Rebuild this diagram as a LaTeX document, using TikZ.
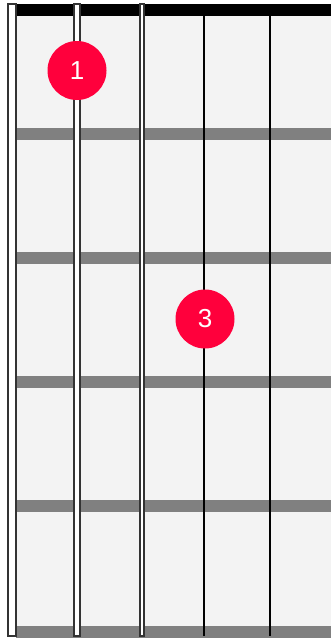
\documentclass[tikz,border=0pt]{standalone}
\usepackage{fontspec}
\setmainfont{Liberation Sans}
\definecolor{boardbg}{HTML}{F3F3F3}
\definecolor{fretgray}{HTML}{808080}
\definecolor{outl}{HTML}{333333}
\definecolor{dotred}{RGB}{255,0,60}
\begin{document}
\begin{tikzpicture}[x=1pt,y=-1pt,
  fretbar/.style={fill=fretgray,draw=none},
  thickstring/.style={fill=white,draw=outl,line width=2pt},
  thinstring/.style={draw=black,line width=2pt},
  fingerdot/.style={circle,fill=dotred,draw=none,minimum size=59pt,inner sep=0pt,text=white,font=\fontsize{26}{26}\selectfont}]
\useasboundingbox (0,0) rectangle (331,638);
% board
\fill[boardbg] (16,16) rectangle (331,626);
% nut
\fill[black] (16,4) rectangle (331,16);
% frets
\foreach \y in {128,252,376,500} \fill[fretbar] (16,\y) rectangle (331,\y+12);
\fill[fretbar] (16,626) rectangle (331,638);
% thin strings
\draw[thinstring] (204,16) -- (204,636);
\draw[thinstring] (270,16) -- (270,636);
% thick strings
\draw[thickstring] (8.3,4) rectangle (15.7,636);
\draw[thickstring] (74.3,4) rectangle (79.7,636);
\draw[thickstring] (140.3,4) rectangle (143.7,636);
% finger dots
\node[fingerdot] (f1) at (77,70.5) {1};
\node[fingerdot] (f3) at (205,319) {3};
\end{tikzpicture}
\end{document}
